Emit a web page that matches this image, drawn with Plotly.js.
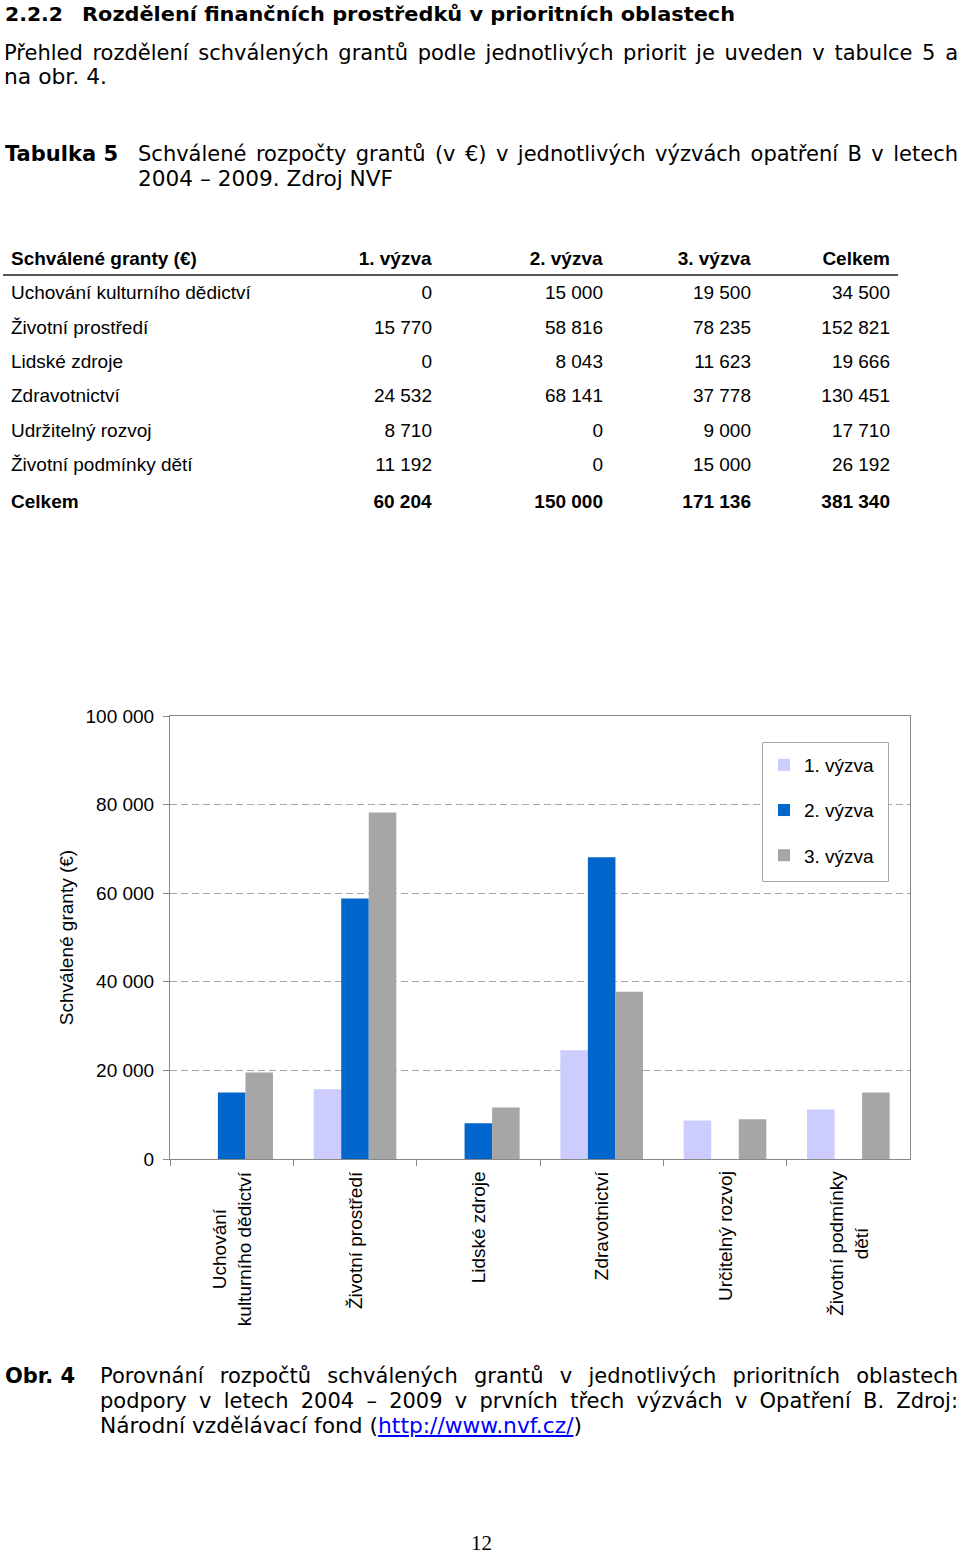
<!DOCTYPE html>
<html><head><meta charset="utf-8">
<script src="https://cdn.plot.ly/plotly-3.0.1.min.js"></script>
<style>
html,body{margin:0;padding:0;background:#fff;}
#page{position:relative;width:960px;height:1555px;overflow:hidden;background:#fff;}
#chart{position:absolute;left:0;top:0;width:960px;height:1555px;z-index:1;}
.ln{position:absolute;white-space:nowrap;font-family:'DejaVu Sans',Verdana,sans-serif;color:#000;transform-origin:0 0;z-index:2;display:inline-block;}
.ln a{color:#0000FF;text-decoration:underline;}
</style></head><body>
<div id="page"><div id="chart"></div></div>
<script>
// ---- data ----
const tableCategories = ["Uchování kulturního dědictví","Životní prostředí","Lidské zdroje","Zdravotnictví","Udržitelný rozvoj","Životní podmínky dětí"];
const chartCategories = ["Uchování kulturního dědictví","Životní prostředí","Lidské zdroje","Zdravotnictví","Určitelný rozvoj","Životní podmínky dětí"];
const chartLabels = ["Uchování<br>kulturního dědictví","Životní prostředí","Lidské zdroje","Zdravotnictví","Určitelný rozvoj","Životní podmínky<br>dětí"];
const seriesNames = ["1. výzva","2. výzva","3. výzva"];
const vyzva1 = [0,15770,0,24532,8710,11192];
const vyzva2 = [15000,58816,8043,68141,0,0];
const vyzva3 = [19500,78235,11623,37778,9000,15000];
const tableHeader = ["Schválené granty (€)","1. výzva","2. výzva","3. výzva","Celkem"];
const totalLabel = "Celkem";
const yTitle = "Schválené granty (€)";
const seriesColors = ["#CCCCFF","#0066CC","#A6A6A6"];

// ---- page text ----
const lines = [
 {t:'2.2.2', x:5, b:20.7, w:58, bold:1, s:20},
 {t:'Rozdělení finančních prostředků v prioritních oblastech', x:82, b:20.7, w:653, bold:1, s:20},
 {t:'Přehled rozdělení schválených grantů podle jednotlivých priorit je uveden v tabulce 5 a', x:4, b:60.5, w:954, j:1},
 {t:'na obr. 4.', x:4, b:84.5, w:103},
 {t:'Tabulka 5', x:5, b:161.5, w:113, bold:1},
 {t:'Schválené rozpočty grantů (v €) v jednotlivých výzvách opatření B v letech', x:138, b:161.5, w:820, j:1},
 {t:'2004 – 2009. Zdroj NVF', x:138, b:187, w:255},
 {t:'Obr. 4', x:5, b:1384, w:70, bold:1},
 {t:'Porovnání rozpočtů schválených grantů v jednotlivých prioritních oblastech', x:100, b:1384, w:858, j:1},
 {t:'podpory v letech 2004 – 2009 v prvních třech výzvách v Opatření B. Zdroj:', x:100, b:1409, w:858, j:1},
 {t:'Národní vzdělávací fond (<a>http://www.nvf.cz/</a>)', x:100, b:1434, w:482}
];
const page = document.getElementById('page');
lines.forEach(L=>{
  const F = L.s || 21;
  const d = document.createElement('div');
  d.className='ln';
  d.innerHTML = L.t;
  d.style.fontSize = F+'px';
  d.style.lineHeight = F+'px';
  d.style.fontWeight = L.bold?'bold':'normal';
  d.style.left = L.x+'px';
  d.style.top = (L.b - 0.846*F)+'px';
  page.appendChild(d);
  const w = d.getBoundingClientRect().width;
  if (L.j && w <= L.w) {
    d.style.whiteSpace='normal'; d.style.width=L.w+'px';
    d.style.textAlign='justify'; d.style.textAlignLast='justify';
  } else {
    d.style.transform='scaleX('+(L.w/w)+')';
  }
});
const pn = document.createElement('div');
pn.className='ln';
pn.textContent='12';
pn.style.fontFamily="'Liberation Serif','Times New Roman',serif";
pn.style.fontSize='21px'; pn.style.lineHeight='21px';
pn.style.left='471px'; pn.style.top=(1551-0.8375*21)+'px';
page.appendChild(pn);

// ---- chart + table ----
const W=960, H=1555;
const px = v=>v/W, py = v=>1-v/H;
const fmt = n => String(n).replace(/\B(?=(\d{3})+(?!\d))/g,'\u00a0');
const series = [vyzva1,vyzva2,vyzva3];
const rowTotals = vyzva1.map((v,i)=>v+vyzva2[i]+vyzva3[i]);
const allCols = series.concat([rowTotals]);
const colTotals = allCols.map(a=>a.reduce((s,v)=>s+v,0));
const firstCol = tableCategories.concat(['<b>'+totalLabel+'</b>']);
const numCols = allCols.map((a,k)=>a.map(fmt).concat(['<b>'+fmt(colTotals[k])+'</b>']));
const FONT = "Arial, 'Liberation Sans', sans-serif";

const traces = series.map((vals,k)=>({
  type:'bar', name:seriesNames[k], x:chartCategories, y:vals,
  marker:{color:seriesColors[k], line:{width:0}}, legendgroup:'g'+k, hoverinfo:'skip'
}));
const aligns = ['left','right','right','right','right'];
traces.push({
  type:'table',
  domain:{x:[px(3),px(898)], y:[py(522),py(240)]},
  columnwidth:[297,140,171,148,139],
  header:{values:tableHeader.map(h=>'<b>'+h+'</b>'), align:aligns, height:36,
    fill:{color:'rgba(0,0,0,0)'}, line:{width:0,color:'rgba(0,0,0,0)'},
    font:{family:FONT,size:19,color:'#000'}},
  cells:{values:[firstCol].concat(numCols), align:aligns, height:34.4,
    fill:{color:'rgba(0,0,0,0)'}, line:{width:0,color:'rgba(0,0,0,0)'},
    font:{family:FONT,size:19,color:'#000'}}
});

const layout = {
  width:W, height:H, margin:{l:0,r:0,t:0,b:0,pad:0},
  paper_bgcolor:'rgba(0,0,0,0)', plot_bgcolor:'#fff',
  separators:', ',
  font:{family:FONT,size:19,color:'#000'},
  barmode:'group', bargap:0.33, bargroupgap:0,
  showlegend:true,
  legend:{x:px(764), y:py(746), xanchor:'left', yanchor:'top', borderwidth:0,
    bgcolor:'rgba(0,0,0,0)', font:{family:FONT,size:19,color:'#000'}, traceorder:'grouped', tracegroupgap:17.5},
  xaxis:{domain:[px(170),px(910)], type:'category', showticklabels:false, ticks:'outside', tickson:'boundaries',
    ticklen:6, tickcolor:'#888', showline:true, linecolor:'#888', linewidth:1, mirror:true, showgrid:false,
    fixedrange:true, automargin:false},
  yaxis:{domain:[py(1159),py(716)], range:[0,100000], dtick:20000, tick0:0, tickformat:',d', ticks:'outside',
    ticklen:6, tickcolor:'#888', showline:true, linecolor:'#888', mirror:true, showgrid:true, gridcolor:'#A6A6A6',
    griddash:'7px,4px', zeroline:false, automargin:false, ticklabelstandoff:5, fixedrange:true,
    tickfont:{family:FONT,size:19,color:'#000'},
    title:{text:yTitle, font:{family:FONT,size:19,color:'#000'}, standoff:6}},
  annotations: chartLabels.map((t,i)=>({x:chartCategories[i], y:0, xref:'x', yref:'y', yanchor:'top', xanchor:'center',
    yshift:-10, textangle:-90, text:t, showarrow:false, align:'center', font:{family:FONT,size:19,color:'#000'}})),
  shapes:[
    {type:'line', xref:'paper', yref:'paper', x0:px(3), x1:px(898), y0:py(275), y1:py(275), line:{color:'#555',width:2}},
    {type:'rect', xref:'paper', yref:'paper', x0:px(762.5), x1:px(888.5), y0:py(742.5), y1:py(881.5), fillcolor:'#fff', line:{color:'#A6A6A6',width:1}, layer:'above'}
  ]
};
Plotly.newPlot('chart', traces, layout, {staticPlot:true, displayModeBar:false});
</script>
</body></html>
